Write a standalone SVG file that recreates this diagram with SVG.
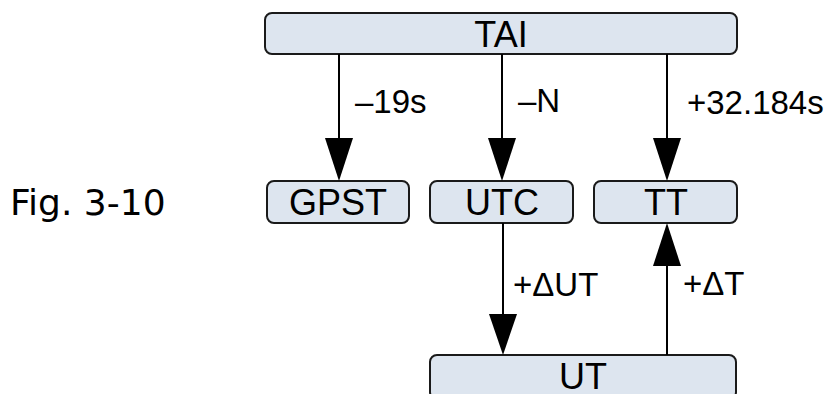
<svg xmlns="http://www.w3.org/2000/svg" width="830" height="394" viewBox="0 0 830 394">
  <style>
    .box { fill: #dde5ef; stroke: #1a1a1a; stroke-width: 2; }
    .name { font-family: "Liberation Sans", Arial, sans-serif; font-size: 36px; fill: #000; text-anchor: middle; }
    .lbl { font-family: "Liberation Sans", Arial, sans-serif; font-size: 33px; fill: #000; }
    .fig { font-family: "DejaVu Sans", sans-serif; font-size: 36px; fill: #000; }
    .wire { stroke: #000; stroke-width: 2; fill: none; }
    .head { fill: #000; }
  </style>
  <rect width="830" height="394" fill="#fff"/>

  <text class="fig" x="10" y="215">Fig. 3-10</text>

  <g id="tai">
    <rect class="box" x="265" y="13" width="472" height="41" rx="7"/>
    <text class="name" x="501" y="47">TAI</text>
  </g>
  <g id="gpst">
    <rect class="box" x="267" y="181" width="142" height="42" rx="7"/>
    <text class="name" x="338" y="215">GPST</text>
  </g>
  <g id="utc">
    <rect class="box" x="430" y="181" width="143" height="42" rx="7"/>
    <text class="name" x="502" y="215">UTC</text>
  </g>
  <g id="tt">
    <rect class="box" x="594" y="181" width="143" height="42" rx="7"/>
    <text class="name" x="666" y="215">TT</text>
  </g>
  <g id="ut">
    <rect class="box" x="430" y="355" width="306" height="44" rx="7"/>
    <text class="name" x="583" y="389">UT</text>
  </g>

  <g id="connectors">
    <line class="wire" x1="339" y1="54" x2="339" y2="140"/>
    <polygon class="head" points="325,138 353,138 339,181"/>
    <text class="lbl" x="355" y="113">–19s</text>

    <line class="wire" x1="502" y1="54" x2="502" y2="140"/>
    <polygon class="head" points="488,138 516,138 502,181"/>
    <text class="lbl" x="518" y="112">–N</text>

    <line class="wire" x1="667" y1="54" x2="667" y2="140"/>
    <polygon class="head" points="653,138 681,138 667,181"/>
    <text class="lbl" x="687" y="114">+32.184s</text>

    <line class="wire" x1="503" y1="223" x2="503" y2="316"/>
    <polygon class="head" points="489,314 517,314 503,355"/>
    <text class="lbl" x="513" y="296">+ΔUT</text>

    <line class="wire" x1="667" y1="355" x2="667" y2="264"/>
    <polygon class="head" points="653,266 681,266 667,223"/>
    <text class="lbl" x="683" y="295">+ΔT</text>
  </g>
</svg>
